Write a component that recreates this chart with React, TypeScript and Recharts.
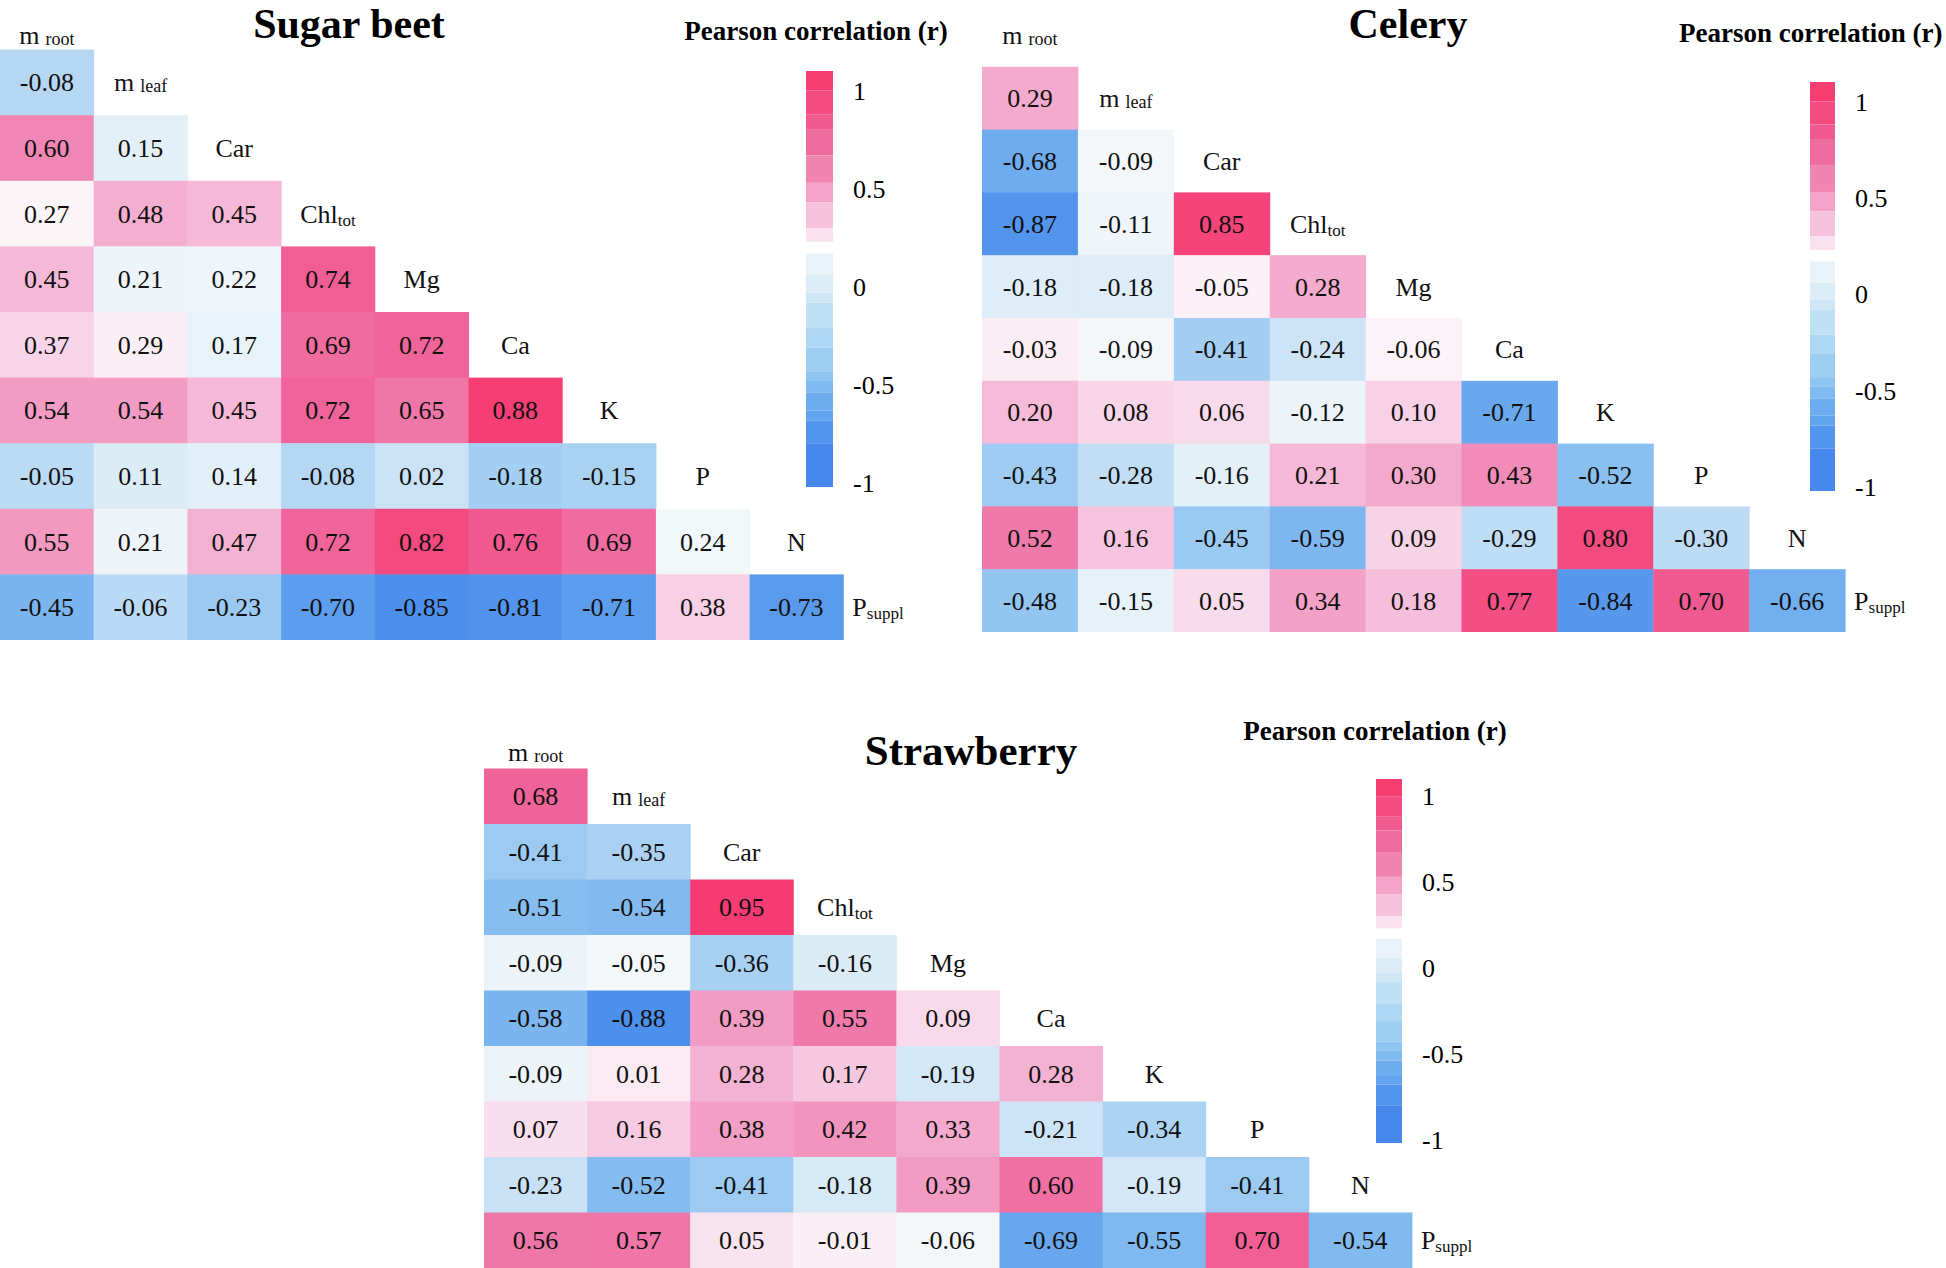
import React from 'react';
import { ScatterChart, Scatter, XAxis, YAxis, ReferenceArea } from 'recharts';

// variable names (main part + small subscript part)
const labelMain = ['m', 'm', 'Car', 'Chl', 'Mg', 'Ca', 'K', 'P', 'N', 'P'];
const labelSub = ['root', 'leaf', '', 'tot', '', '', '', '', '', 'suppl'];

// lower triangle, row i = variable i+1 vs variables 0..i
const sugarBeetR = [
  [-0.08],
  [0.6, 0.15],
  [0.27, 0.48, 0.45],
  [0.45, 0.21, 0.22, 0.74],
  [0.37, 0.29, 0.17, 0.69, 0.72],
  [0.54, 0.54, 0.45, 0.72, 0.65, 0.88],
  [-0.05, 0.11, 0.14, -0.08, 0.02, -0.18, -0.15],
  [0.55, 0.21, 0.47, 0.72, 0.82, 0.76, 0.69, 0.24],
  [-0.45, -0.06, -0.23, -0.7, -0.85, -0.81, -0.71, 0.38, -0.73],
];

const celeryR = [
  [0.29],
  [-0.68, -0.09],
  [-0.87, -0.11, 0.85],
  [-0.18, -0.18, -0.05, 0.28],
  [-0.03, -0.09, -0.41, -0.24, -0.06],
  [0.2, 0.08, 0.06, -0.12, 0.1, -0.71],
  [-0.43, -0.28, -0.16, 0.21, 0.3, 0.43, -0.52],
  [0.52, 0.16, -0.45, -0.59, 0.09, -0.29, 0.8, -0.3],
  [-0.48, -0.15, 0.05, 0.34, 0.18, 0.77, -0.84, 0.7, -0.66],
];

const strawberryR = [
  [0.68],
  [-0.41, -0.35],
  [-0.51, -0.54, 0.95],
  [-0.09, -0.05, -0.36, -0.16],
  [-0.58, -0.88, 0.39, 0.55, 0.09],
  [-0.09, 0.01, 0.28, 0.17, -0.19, 0.28],
  [0.07, 0.16, 0.38, 0.42, 0.33, -0.21, -0.34],
  [-0.23, -0.52, -0.41, -0.18, 0.39, 0.6, -0.19, -0.41],
  [0.56, 0.57, 0.05, -0.01, -0.06, -0.69, -0.55, 0.7, -0.54],
];

// colour bar
const cbTicks = [1, 0.5, 0, -0.5, -1];
const cbDomain = [-1.02, 1.1];
const cbPinkEdges = [1.1, 1.0, 0.88, 0.8, 0.67, 0.53, 0.43, 0.3, 0.23];
const cbPinkColors = ['#f53d72', '#f44b80', '#f05a8f', '#ef6c9e', '#f085b0', '#f3a3c8', '#f6c3dc', '#fae1ee'];
const cbBlueEdges = [0.17, 0.06, -0.03, -0.08, -0.21, -0.31, -0.43, -0.48, -0.54, -0.63, -0.68, -0.8, -1.02];
const cbBlueColors = ['#eaf3f9', '#dcedf8', '#cfe6f6', '#c0e0f5', '#aed7f4', '#9dcef2', '#8fc5f1', '#7fbaf0', '#6dadef', '#62a4ee', '#5396ee', '#4688ec'];

const FONT = '"Liberation Serif", "Times New Roman", serif';

const negStops: [number, string][] = [
  [0, '#f7f9fb'], [0.1, '#e4f0f8'], [0.25, '#bedcf4'], [0.5, '#8ac0f0'], [0.75, '#64a4ee'], [1, '#4587ec'],
];
const posStops: [number, string][] = [
  [0, '#fbf5f8'], [0.1, '#f9e1ee'], [0.25, '#f5bfdb'], [0.4, '#f3a3c8'], [0.55, '#ef80ae'],
  [0.7, '#f0669b'], [0.85, '#f34d83'], [1, '#f53a70'],
];

const hex = (c: string) => [1, 3, 5].map((i) => parseInt(c.slice(i, i + 2), 16));

function interp(stops: [number, string][], t: number) {
  for (let i = 1; i < stops.length; i++) {
    if (t <= stops[i][0]) {
      const [t0, c0] = stops[i - 1];
      const [t1, c1] = stops[i];
      const f = (t - t0) / (t1 - t0);
      const a = hex(c0);
      const b = hex(c1);
      return `rgb(${a.map((v, k) => Math.round(v + (b[k] - v) * f)).join(',')})`;
    }
  }
  return stops[stops.length - 1][1];
}

function cellColor(r: number, s: { mid: number; pos: number; neg: number }) {
  if (r >= s.mid) return interp(posStops, Math.min(1, (r - s.mid) / s.pos));
  return interp(negStops, Math.min(1, (s.mid - r) / s.neg));
}

interface HeatmapProps {
  rows: number[][];
  left: number;
  top: number;
  colW: number;
  rowH: number;
  scale: { mid: number; pos: number; neg: number };
  rootDy: number;
}

const Heatmap: React.FC<HeatmapProps> = ({ rows, left, top, colW, rowH, scale, rootDy }) => {
  const cells = rows.flatMap((row, r) => row.map((v, c) => ({ x: c + 0.5, y: r + 0.5, r: v })));
  const labels = labelMain.map((m, k) => ({ x: k + 0.5, y: k - 0.5, main: m, sub: labelSub[k], k }));
  const last = labelMain.length - 1;

  const renderCell = (p: any) => (
    <g>
      <rect x={p.cx - colW / 2} y={p.cy - rowH / 2} width={colW + 0.5} height={rowH + 0.5} fill={cellColor(p.payload.r, scale)} />
      <text x={p.cx} y={p.cy + 9} textAnchor="middle" fontSize={26} fontFamily={FONT} fill="#111">
        {p.payload.r.toFixed(2)}
      </text>
    </g>
  );

  const renderLabel = (p: any) => {
    const d = p.payload;
    const isM = d.main === 'm';
    const atEnd = d.k === last;
    return (
      <text
        x={atEnd ? p.cx - colW / 2 + 9 : p.cx}
        y={p.cy + 9 + (d.k === 0 ? rootDy : 0)}
        textAnchor={atEnd ? 'start' : 'middle'}
        fontFamily={FONT}
        fill="#111"
        fontSize={26}
      >
        <tspan>{d.main}</tspan>
        {d.sub ? (
          <tspan fontSize={isM ? 18 : 17} dx={isM ? 6 : 0} dy={isM ? 1 : 3}>
            {d.sub}
          </tspan>
        ) : null}
      </text>
    );
  };

  return (
    <div style={{ position: 'absolute', left, top: top - rowH }}>
      <ScatterChart width={colW * 10} height={rowH * 10} margin={{ top: 0, right: 0, bottom: 0, left: 0 }}>
        <XAxis type="number" dataKey="x" domain={[0, 10]} hide />
        <YAxis type="number" dataKey="y" domain={[-1, 9]} reversed hide />
        <Scatter data={cells} shape={renderCell} isAnimationActive={false} />
        <Scatter data={labels} shape={renderLabel} isAnimationActive={false} />
      </ScatterChart>
    </div>
  );
};

const PAD = 24;

const ColorBar: React.FC<{ left: number; top: number; w: number; h: number }> = ({ left, top, w, h }) => {
  const bands = [
    ...cbPinkColors.map((c, i) => ({ hi: cbPinkEdges[i], lo: cbPinkEdges[i + 1], c })),
    ...cbBlueColors.map((c, i) => ({ hi: cbBlueEdges[i], lo: cbBlueEdges[i + 1], c })),
  ];
  return (
    <div style={{ position: 'absolute', left, top: top - PAD }}>
      <ScatterChart width={w + 80} height={h + 2 * PAD} margin={{ top: PAD, right: 0, bottom: PAD, left: 0 }}>
        <XAxis type="number" dataKey="x" domain={[0, 1]} hide />
        <YAxis
          type="number"
          dataKey="y"
          domain={cbDomain}
          orientation="right"
          width={80}
          ticks={cbTicks}
          interval={0}
          tickFormatter={(v: number) => String(v)}
          axisLine={false}
          tickLine={false}
          tickSize={0}
          tickMargin={20}
          tick={{ fill: '#000', fontSize: 26, fontFamily: FONT }}
        />
        {bands.map((b, i) => (
          <ReferenceArea key={i} x1={0} x2={1} y1={b.lo} y2={b.hi} fill={b.c} fillOpacity={1} stroke="none" ifOverflow="visible" />
        ))}
        <Scatter data={cbTicks.map((t) => ({ x: 0.5, y: t }))} shape={() => <g />} isAnimationActive={false} />
      </ScatterChart>
    </div>
  );
};

export default function App() {
  return (
    <div style={{ position: 'absolute', left: 0, top: 0, width: 1946, height: 1268, background: '#fff', overflow: 'hidden' }}>
      <Heatmap rows={sugarBeetR} left={0} top={50} colW={93.7} rowH={65.6} scale={{ mid: 0.27, pos: 0.63, neg: 1.2 }} rootDy={18} />
      <Heatmap rows={celeryR} left={982} top={67} colW={95.9} rowH={62.8} scale={{ mid: -0.07, pos: 1.0, neg: 0.9 }} rootDy={0} />
      <Heatmap rows={strawberryR} left={484} top={768} colW={103.1} rowH={55.5} scale={{ mid: -0.04, pos: 1.0, neg: 0.9 }} rootDy={11} />

      <ColorBar left={806} top={71} w={27} h={416} />
      <ColorBar left={1810} top={82} w={25} h={409} />
      <ColorBar left={1376} top={779} w={26} h={364} />

      <svg width={1946} height={1268} style={{ position: 'absolute', left: 0, top: 0, pointerEvents: 'none' }}>
        <g fontFamily={FONT} fontWeight="bold" fill="#000">
          <text x={349} y={38} fontSize={42} textAnchor="middle">Sugar beet</text>
          <text x={1408} y={38} fontSize={42} textAnchor="middle">Celery</text>
          <text x={971} y={765} fontSize={43} textAnchor="middle">Strawberry</text>
          <text x={816} y={40} fontSize={27} textAnchor="middle">Pearson correlation (r)</text>
          <text x={1679} y={42} fontSize={27}>Pearson correlation (r)</text>
          <text x={1375} y={740} fontSize={27} textAnchor="middle">Pearson correlation (r)</text>
        </g>
      </svg>
    </div>
  );
}
